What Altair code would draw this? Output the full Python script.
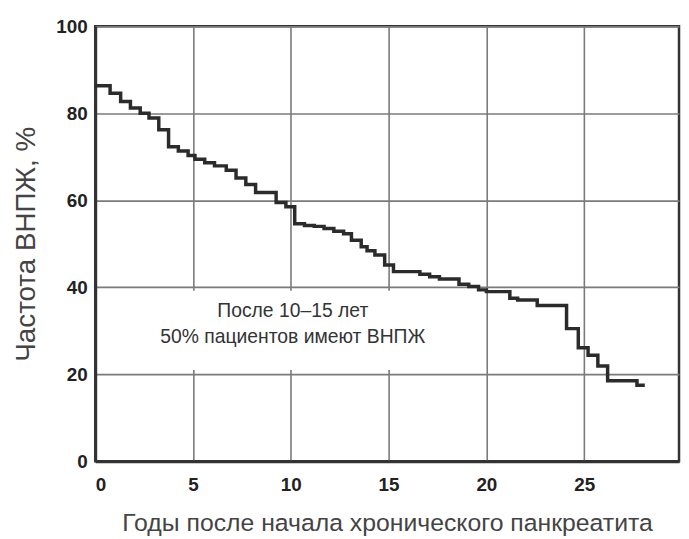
import altair as alt
import pandas as pd

# Step curve: years after onset of chronic pancreatitis vs frequency of exocrine insufficiency (%)
years = [0, 0.76, 1.3, 1.8, 2.3, 2.75, 3.25, 3.75, 4.25, 4.75, 5.1, 5.6, 6.1, 6.7, 7.2,
         7.7, 8.2, 9.25, 9.75, 10.2, 10.7, 11.2, 11.7, 12.2, 12.7, 13.1, 13.6, 13.9,
         14.3, 14.8, 15.25, 16.6, 17.1, 17.6, 18.6, 19.1, 19.6, 20.0, 21.2, 21.6, 22.6,
         24.1, 24.7, 25.2, 25.7, 26.2, 27.7, 28.1]
freq = [86.3, 84.6, 82.7, 81.2, 80.0, 78.9, 76.2, 72.3, 71.3, 70.3, 69.4, 68.6, 67.9, 66.9, 65.1,
        63.6, 61.8, 59.5, 58.5, 54.6, 54.2, 54.0, 53.5, 52.9, 52.3, 50.8, 49.3, 48.4,
        47.4, 45.1, 43.6, 43.0, 42.4, 41.9, 40.7, 40.2, 39.4, 39.0, 37.5, 37.1, 35.8,
        30.5, 26.1, 24.4, 21.9, 18.5, 17.5, 17.5]

x_ticks = [0, 5, 10, 15, 20, 25]
y_ticks = [0, 20, 40, 60, 80, 100]

note_lines = ["После 10–15 лет", "50% пациентов имеют ВНПЖ"]
note_x = [10.1, 10.1]
note_y = [34.6, 28.6]

# white box behind the note (hides the grid there)
box_x = [3.6]
box_x2 = [17.6]
box_y = [21.0]
box_y2 = [39.2]

curve = pd.DataFrame({"x": years, "y": freq})
notes = pd.DataFrame({"x": note_x, "y": note_y, "t": note_lines})
box = pd.DataFrame({"x": box_x, "x2": box_x2, "y": box_y, "y2": box_y2})

xs = alt.Scale(domain=[0, 29.85], nice=False, zero=False)
ys = alt.Scale(domain=[0, 100], nice=False)

x_axis = alt.Axis(
    values=x_ticks, grid=True, gridColor="#7a7a7a", gridWidth=1.6,
    domainColor="#333", domainWidth=3, ticks=False,
    labelFont="Liberation Sans", labelFontWeight="bold", labelFontSize=19,
    labelColor="#222", labelPadding=14,
    title="Годы после начала хронического панкреатита",
    titleFont="Liberation Sans", titleFontWeight="normal", titleFontSize=25,
    titleColor="#444", titlePadding=17,
)
y_axis = alt.Axis(
    values=y_ticks, grid=True, gridColor="#7a7a7a", gridWidth=1.6,
    domainColor="#333", domainWidth=3, ticks=False,
    labelFont="Liberation Sans", labelFontWeight="bold", labelFontSize=19,
    labelColor="#222", labelPadding=8,
    title="Частота ВНПЖ, %",
    titleFont="Liberation Sans", titleFontWeight="normal", titleFontSize=28,
    titleColor="#444", titlePadding=16,
)

rect = alt.Chart(box).mark_rect(color="white").encode(
    x=alt.X("x:Q", scale=xs, axis=x_axis),
    x2="x2:Q",
    y=alt.Y("y:Q", scale=ys, axis=y_axis),
    y2="y2:Q",
)

line = alt.Chart(curve).mark_line(
    interpolate="step-after", color="#2b2b2b", strokeWidth=3.5
).encode(
    x=alt.X("x:Q", scale=xs),
    y=alt.Y("y:Q", scale=ys),
)

text = alt.Chart(notes).mark_text(
    font="Liberation Sans", fontSize=19.5, color="#333", align="center", baseline="middle"
).encode(
    x=alt.X("x:Q", scale=xs),
    y=alt.Y("y:Q", scale=ys),
    text="t:N",
)

chart = alt.layer(rect, line, text).properties(
    width=589, height=439,
    autosize=alt.AutoSizeParams(type="none"),
    padding={"left": 88, "top": 16, "right": 2, "bottom": 76},
).configure_view(
    stroke="#333", strokeWidth=2.5
)

chart.save("out.html", embed_options={"renderer": "svg", "actions": False})
